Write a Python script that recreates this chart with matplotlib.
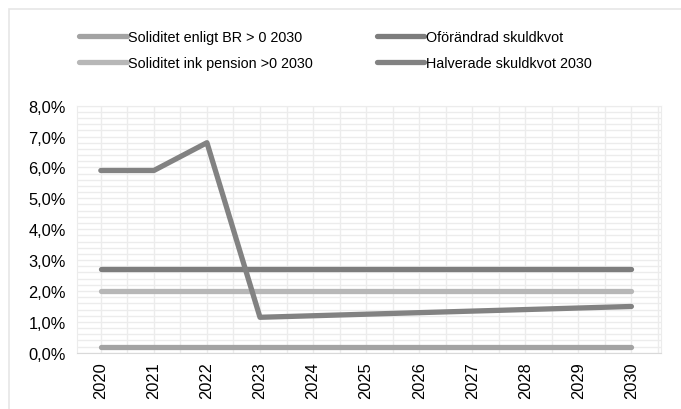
import matplotlib.pyplot as plt
from matplotlib.ticker import FuncFormatter, MultipleLocator
from matplotlib.patches import Rectangle

plt.rcParams["font.family"] = ["Liberation Sans", "DejaVu Sans"]

# ----------------------------------------------------
# Data (andel i procent)
# ----------------------------------------------------

years = [2020, 2021, 2022, 2023, 2024, 2025, 2026, 2027, 2028, 2029, 2030]

soliditet_br = [0.2] * 11
soliditet_pension = [2.0] * 11
oforandrad = [2.7] * 11
halverade = [5.9, 5.9, 6.8, 1.15, 1.2, 1.25, 1.3, 1.35, 1.4, 1.45, 1.5]

series = [
    ("Soliditet enligt BR > 0 2030", soliditet_br, "#a3a3a3"),
    ("Oförändrad skuldkvot", oforandrad, "#7d7d7d"),
    ("Soliditet ink pension >0 2030", soliditet_pension, "#b7b7b7"),
    ("Halverade skuldkvot 2030", halverade, "#828282"),
]

# ----------------------------------------------------
# Figure
# ----------------------------------------------------

fig = plt.figure(figsize=(6.81, 4.10), dpi=100)
ax = fig.add_axes([0.113, 0.137, 0.857, 0.603])

# light frame round the whole chart
fig.patches.append(Rectangle(
    (9 / 681, -0.1), 1.2, 1.1 - 10 / 410,
    transform=fig.transFigure, fill=False,
    edgecolor="#e6e6e6", linewidth=1.2
))

handles = {}
for label, values, color in series:
    line, = ax.plot(
        years,
        values,
        color=color,
        linewidth=3.8,
        solid_capstyle="round",
        solid_joinstyle="round",
        label=label
    )
    handles[label] = line

ax.set_xlim(2019.55, 2030.55)
ax.set_ylim(0, 8)

ax.set_xticks(years)
ax.set_xticklabels([str(y) for y in years], rotation=90, fontsize=11.8)
ax.xaxis.set_minor_locator(MultipleLocator(0.5))

ax.yaxis.set_major_locator(MultipleLocator(1))
ax.yaxis.set_minor_locator(MultipleLocator(0.2))
ax.yaxis.set_major_formatter(
    FuncFormatter(lambda v, pos: f"{v:.1f}%".replace(".", ","))
)
ax.tick_params(axis="y", labelsize=11.8, length=0, pad=8)
ax.tick_params(axis="x", length=0, pad=6)
ax.tick_params(which="minor", length=0)

ax.grid(True, which="both", color="#ececec", linewidth=1.0)
ax.set_axisbelow(True)

for side in ["top", "right", "left"]:
    ax.spines[side].set_color("#ececec")
ax.spines["bottom"].set_color("#d9d9d9")

# ----------------------------------------------------
# Legend
# ----------------------------------------------------

order = [
    "Soliditet enligt BR > 0 2030",
    "Soliditet ink pension >0 2030",
    "Oförändrad skuldkvot",
    "Halverade skuldkvot 2030",
]

fig.legend(
    [handles[k] for k in order],
    order,
    loc="upper left",
    bbox_to_anchor=(0.097, 0.955),
    ncol=2,
    frameon=False,
    fontsize=10.4,
    handlelength=3.3,
    handletextpad=0.12,
    columnspacing=4.4,
    labelspacing=0.82
)

fig.savefig("out.png", dpi=100)
